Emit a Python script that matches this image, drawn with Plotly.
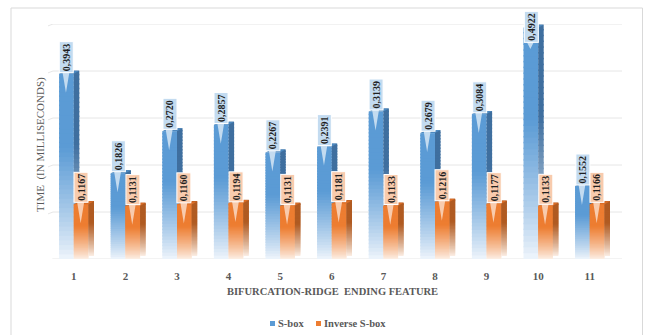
import plotly.graph_objects as go

# ---- data ----
features = list(range(1, 12))
tick_labels = [str(i) for i in features]
sbox = [0.3943, 0.1826, 0.2720, 0.2857, 0.2267, 0.2391, 0.3139, 0.2679, 0.3084, 0.4922, 0.1552]
inv_sbox = [0.1167, 0.1131, 0.1160, 0.1194, 0.1131, 0.1181, 0.1133, 0.1216, 0.1177, 0.1133, 0.1166]
grid_values = [0.0, 0.1, 0.2, 0.3, 0.4, 0.5]
series_names = ["S-box", "Inverse S-box"]

# ---- styling ----
FONT = "Liberation Serif"
TEXT_GRAY = "#595959"
W, H = 649, 335
ML, MR, MT, MB = 48, 27, 24, 76
PX_PER_X = 51.6                     # pixels per category
X_RANGE = [0.5, 0.5 + (W - ML - MR) / PX_PER_X]
Y_RANGE = [0.0, 0.5]
PX_PER_Y = (H - MT - MB) / (Y_RANGE[1] - Y_RANGE[0])

BAR_W = 0.285                       # front face width (category units)
DEPTH_X = 5.5 / PX_PER_X            # 3-D depth, horizontal
DEPTH_Y = 3.0 / PX_PER_Y            # 3-D depth, vertical
N_SEG = 40                          # gradient steps
FADE = 0.6                          # lower share of each bar that fades out
LABEL_LEN = 33                      # length of a rotated value label, px
LABEL_MIN_TOP = 10                  # labels never rise above this pixel row

styles = [
    dict(values=sbox, offset=-BAR_W, front="#5b9bd5", side="#3f6f9f", top="#4c88bf",
         bottom="#f1f6fc", label_bg="#c3dbf0", label_fg="#1f1f1f"),
    dict(values=inv_sbox, offset=0.0, front="#ed7d31", side="#b05b22", top="#d96d27",
         bottom="#fdf1e8", label_bg="#f8cbad", label_fg="#1f1f1f"),
]


def hex_rgb(c):
    c = c.lstrip("#")
    return tuple(int(c[i:i + 2], 16) for i in (0, 2, 4))


def shade(base, bottom, t):
    """Colour at relative height t (0 = floor, 1 = top) of a gradient bar."""
    if t >= FADE:
        return base
    f = (t / FADE) ** 0.85
    b, w = hex_rgb(base), hex_rgb(bottom)
    return "rgb(%d,%d,%d)" % tuple(round(w[i] + (b[i] - w[i]) * f) for i in range(3))


def y_to_px(v):
    return H - MB - (v - Y_RANGE[0]) * PX_PER_Y


def label_shift(v):
    """Vertical shift (px, up positive) that keeps a label inside the frame."""
    bottom = y_to_px(v) - 1
    if bottom - LABEL_LEN < LABEL_MIN_TOP:
        bottom = LABEL_MIN_TOP + LABEL_LEN
    return y_to_px(v) - bottom


fig = go.Figure()
overlap = 1.5 / PX_PER_Y

for st in styles:
    vals = st["values"]
    # front face and side face, built as stacked gradient slices of each bar
    for face in ("front", "side"):
        for k in range(N_SEG):
            t0, t1 = k / N_SEG, (k + 1) / N_SEG
            extra = overlap if k < N_SEG - 1 else 0.0
            heights = [v * (t1 - t0) + min(extra, v * (1 - t1)) for v in vals]
            if face == "front":
                bases = [v * t0 for v in vals]
                offset, width = st["offset"], BAR_W
            else:
                bases = [v * t0 + DEPTH_Y for v in vals]
                offset, width = st["offset"] + BAR_W, DEPTH_X
            fig.add_trace(go.Bar(
                x=features, y=heights, base=bases, offset=offset, width=width,
                marker=dict(color=shade(st[face], st["bottom"], (t0 + t1) / 2), line=dict(width=0)),
                showlegend=False, hoverinfo="skip",
            ))
    # top face of each bar
    tx, ty = [], []
    for xi, v in zip(features, vals):
        xl = xi + st["offset"]
        xr = xl + BAR_W
        tx += [xl, xl + DEPTH_X, xr + DEPTH_X, xr, xl, None]
        ty += [v, v + DEPTH_Y, v + DEPTH_Y, v, v, None]
    fig.add_trace(go.Scatter(x=tx, y=ty, mode="lines", fill="toself", fillcolor=st["top"],
                             line=dict(width=0), showlegend=False, hoverinfo="skip"))

# callout pointers under the value labels
for st in styles:
    px_, py_ = [], []
    for xi, v in zip(features, st["values"]):
        xc = xi + st["offset"] + BAR_W / 2
        start = v + (label_shift(v) + 1) / PX_PER_Y
        length = 20 if label_shift(v) > -5 else 6
        px_ += [xc - 4 / PX_PER_X, xc + 3 / PX_PER_X, xc - 0.5 / PX_PER_X, xc - 4 / PX_PER_X, None]
        py_ += [start, start, start - (length + 1) / PX_PER_Y, start, None]
    fig.add_trace(go.Scatter(x=px_, y=py_, mode="lines", fill="toself", fillcolor=st["label_bg"],
                             line=dict(width=0), showlegend=False, hoverinfo="skip"))

annotations = []
for st in styles:
    for xi, v in zip(features, st["values"]):
        xc = xi + st["offset"] + BAR_W / 2
        annotations.append(dict(
            x=xc, y=v, xref="x", yref="y", text=f"{v:.4f}".replace(".", ","),
            textangle=-90, showarrow=False, xanchor="center", yanchor="bottom",
            yshift=label_shift(v),
            bgcolor=st["label_bg"], bordercolor="#ffffff", borderwidth=1, borderpad=1,
            font=dict(family=FONT, size=10, color=st["label_fg"], weight="bold"),
        ))


def paper_x(px):
    return (px - ML) / (W - ML - MR)


def paper_y(py):
    return (H - MB - py) / (H - MT - MB)


# axis titles
annotations.append(dict(
    x=paper_x(332), y=paper_y(291), xref="paper", yref="paper",
    text="BIFURCATION-RIDGE  ENDING FEATURE", showarrow=False,
    xanchor="center", yanchor="middle",
    font=dict(family=FONT, size=10.5, color=TEXT_GRAY, weight="bold"),
))
annotations.append(dict(
    x=paper_x(40), y=paper_y(145), xref="paper", yref="paper",
    text="TIME  (IN MILLISECONDS)", showarrow=False, textangle=-90,
    xanchor="center", yanchor="middle",
    font=dict(family=FONT, size=11, color=TEXT_GRAY),
))

# legend
shapes = []
legend_items = [(series_names[0], styles[0]["front"], 270), (series_names[1], styles[1]["front"], 316)]
for name, color, px0 in legend_items:
    shapes.append(dict(type="rect", xref="paper", yref="paper",
                       x0=paper_x(px0), x1=paper_x(px0 + 5), y0=paper_y(326), y1=paper_y(321),
                       fillcolor=color, line=dict(width=0)))
    annotations.append(dict(
        x=paper_x(px0 + 6), y=paper_y(323.5), xref="paper", yref="paper", text=name,
        showarrow=False, xanchor="left", yanchor="middle",
        font=dict(family=FONT, size=10.5, color=TEXT_GRAY, weight="bold"),
    ))

# back-wall gridlines with a short perspective kink at the left end
for g in grid_values:
    shapes.append(dict(
        type="path", xref="x", yref="y", layer="below",
        path=f"M {X_RANGE[0] - 1.5 / PX_PER_X},{g - 2.5 / PX_PER_Y} "
             f"L {X_RANGE[0] + 5 / PX_PER_X},{g} L {X_RANGE[1]},{g}",
        line=dict(color="#e6e6e6", width=1),
    ))

# chart frame
shapes.append(dict(type="rect", xref="paper", yref="paper", layer="below",
                   x0=paper_x(11), x1=paper_x(642.5), y0=paper_y(345), y1=paper_y(8),
                   line=dict(color="#d9d9d9", width=1), fillcolor="rgba(0,0,0,0)"))

fig.update_layout(
    width=W, height=H,
    margin=dict(l=ML, r=MR, t=MT, b=MB),
    paper_bgcolor="white", plot_bgcolor="white",
    barmode="overlay", showlegend=False,
    annotations=annotations, shapes=shapes,
    xaxis=dict(range=X_RANGE, tickmode="array", tickvals=features, ticktext=tick_labels,
               showgrid=False, zeroline=False, showline=False, ticks="",
               ticklabelstandoff=9,
               tickfont=dict(family=FONT, size=11, color=TEXT_GRAY, weight="bold")),
    yaxis=dict(range=Y_RANGE, showgrid=False, zeroline=False, showline=False,
               showticklabels=False, ticks=""),
)

fig.write_html("out.html")
